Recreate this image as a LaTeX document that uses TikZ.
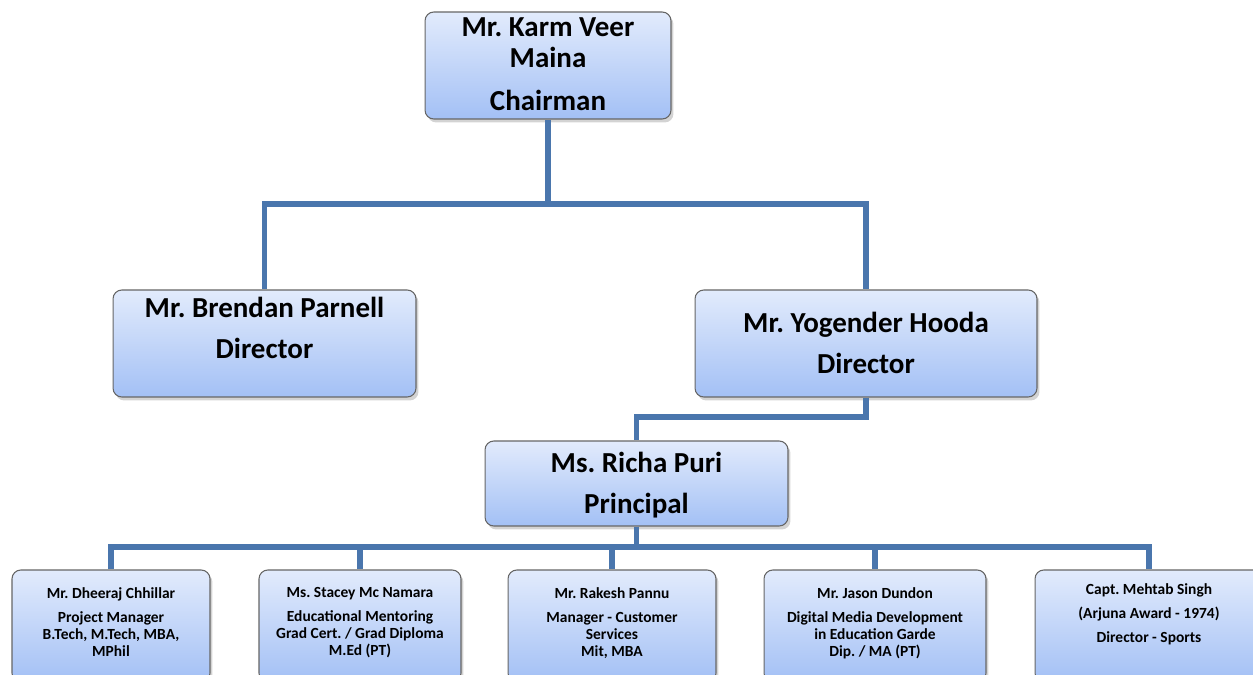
\documentclass[tikz,border=0pt]{standalone}
\usepackage{fontspec}
\setmainfont{Carlito}
\usepackage{tikz}
\usetikzlibrary{positioning,shadows}
\frenchspacing
\definecolor{boxtop}{HTML}{E2EBFC}
\definecolor{boxbot}{HTML}{A3C0F5}
\definecolor{linkblue}{HTML}{4A76AD}
\tikzset{
  orgbox/.style={draw=gray!80!black, line width=0.6pt, rounded corners=5pt,
    top color=boxtop, bottom color=boxbot,
    drop shadow={shadow xshift=0.05cm, shadow yshift=-0.07cm, opacity=0.35}},
  bigtext/.style={font=\fontsize{16.5}{17.6}\selectfont\bfseries, align=center, inner sep=0pt},
  smalltext/.style={font=\fontsize{8.8}{9.6}\selectfont\bfseries, align=center, inner sep=0pt},
  link/.style={draw=linkblue, line width=3.4pt, line join=miter}
}

\begin{document}
\begin{tikzpicture}[x=0.02cm, y=-0.02cm]
 \useasboundingbox (0,0) rectangle (1253,675);

 % boxes
 \node[orgbox, minimum width=4.92cm, minimum height=2.14cm] (chair) at (548,65.5) {};
 \node[orgbox, minimum width=6.06cm, minimum height=2.14cm] (brendan) at (264.5,343.5) {};
 \node[orgbox, minimum width=6.84cm, minimum height=2.14cm] (yogender) at (866,343.5) {};
 \node[orgbox, minimum width=6.06cm, minimum height=1.70cm] (richa) at (636.5,483.5) {};
 \node[orgbox, minimum width=3.96cm, minimum height=2.24cm] (s1) at (111,626) {};
 \node[orgbox, minimum width=4.04cm, minimum height=2.24cm] (s2) at (360,626) {};
 \node[orgbox, minimum width=4.16cm, minimum height=2.24cm] (s3) at (612,626) {};
 \node[orgbox, minimum width=4.44cm, minimum height=2.24cm] (s4) at (875,626) {};
 \node[orgbox, minimum width=4.56cm, minimum height=2.24cm] (s5) at (1149,626) {};

 % texts
 \node[bigtext, below=0.12cm of chair.north] (chair-t) {Mr. Karm Veer\\Maina\\[6.8pt]Chairman};
 \node[bigtext, below=0.14cm of brendan.north] (brendan-t) {Mr. Brendan Parnell\\[6.2pt]Director};
 \node[bigtext, below=0.44cm of yogender.north] (yogender-t) {Mr. Yogender Hooda\\[6.2pt]Director};
 \node[bigtext, below=0.22cm of richa.north] (richa-t) {Ms. Richa Puri\\[6.2pt]Principal};
 \node[smalltext, below=0.36cm of s1.north] (s1-t) {Mr. Dheeraj Chhillar\\[4pt]Project Manager\\B.Tech, M.Tech, MBA,\\MPhil};
 \node[smalltext, below=0.36cm of s2.north] (s2-t) {Ms. Stacey Mc Namara\\[4pt]Educational Mentoring\\Grad Cert. / Grad Diploma\\M.Ed (PT)};
 \node[smalltext, below=0.36cm of s3.north] (s3-t) {Mr. Rakesh Pannu\\[4pt]Manager - Customer\\Services\\Mit, MBA};
 \node[smalltext, below=0.36cm of s4.north] (s4-t) {Mr. Jason Dundon\\[4pt]Digital Media Development\\in Education Garde\\Dip. / MA (PT)};
 \node[smalltext, below=0.28cm of s5.north] (s5-t) {Capt. Mehtab Singh\\[4pt](Arjuna Award - 1974)\\[4pt]Director - Sports};

 % connectors
 \coordinate (bus1) at (548,204);
 \coordinate (bus2) at (636.5,417);
 \coordinate (bus3) at (636.5,547);
 \draw[link] (chair.south) -- (bus1);
 \draw[link] (brendan.north) |- (bus1) -| (yogender.north);
 \draw[link] (yogender.south) |- (bus2) -- (richa.north);
 \draw[link] (richa.south) -- (bus3);
 \draw[link] (s1.north) |- (bus3) -| (s5.north);
 \foreach \s in {s2,s3,s4}
   \draw[link] (bus3 -| \s.north) -- (\s.north);
\end{tikzpicture}
\end{document}
